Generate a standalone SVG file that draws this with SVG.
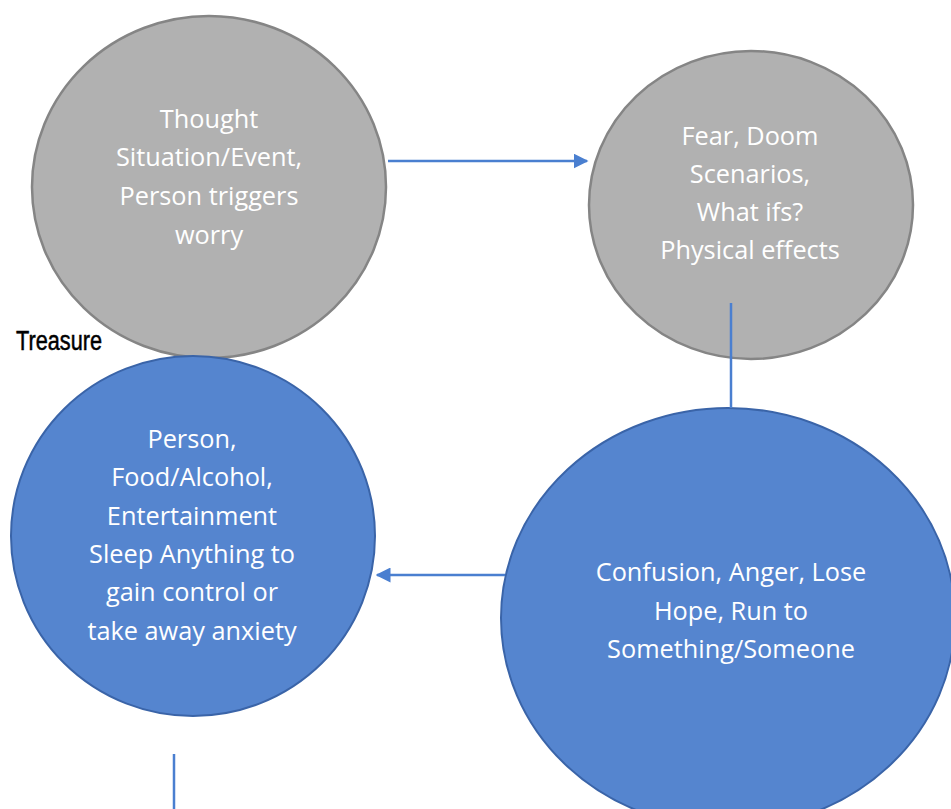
<svg xmlns="http://www.w3.org/2000/svg" width="951" height="809" viewBox="0 0 951 809">
<style>
.gray{fill:#B1B1B1;stroke:#858585;stroke-width:2.5}
.blue{fill:#5585CF;stroke:#3A64A8;stroke-width:2}
.t{font-family:"Open Sans","Liberation Sans",sans-serif;font-size:25.3px;fill:#ffffff;text-anchor:middle}
.c{stroke:#4A7FD0;stroke-width:2.5;fill:none}
</style>
<defs>
<marker id="ah" viewBox="0 0 10 10" refX="9" refY="5" markerWidth="6" markerHeight="6" markerUnits="strokeWidth" orient="auto">
<path d="M0,0 L10,5 L0,10 z" fill="#4A7FD0"/>
</marker>
</defs>
<rect width="951" height="809" fill="#ffffff"/>
<g id="thought">
<ellipse class="gray" cx="209" cy="187" rx="177" ry="171"/>
<text class="t" x="209" y="128">Thought</text>
<text class="t" x="209" y="166">Situation/Event,</text>
<text class="t" x="209" y="205">Person triggers</text>
<text class="t" x="209" y="244">worry</text>
</g>
<g id="fear">
<ellipse class="gray" cx="751" cy="205" rx="162" ry="154"/>
<text class="t" x="750" y="145">Fear, Doom</text>
<text class="t" x="750" y="183">Scenarios,</text>
<text class="t" x="750" y="221">What ifs?</text>
<text class="t" x="750" y="259">Physical effects</text>
</g>
<g id="treasure">
<ellipse class="blue" cx="193" cy="536" rx="182" ry="180"/>
<text class="t" x="192" y="448">Person,</text>
<text class="t" x="192" y="486">Food/Alcohol,</text>
<text class="t" x="192" y="525">Entertainment</text>
<text class="t" x="192" y="563">Sleep Anything to</text>
<text class="t" x="192" y="601">gain control or</text>
<text class="t" x="192" y="640">take away anxiety</text>
</g>
<g id="confusion">
<ellipse class="blue" cx="728" cy="618" rx="227" ry="210"/>
<text class="t" x="731" y="581">Confusion, Anger, Lose</text>
<text class="t" x="731" y="620">Hope, Run to</text>
<text class="t" x="731" y="658">Something/Someone</text>
</g>
<g id="label">
<text x="16" y="350" font-family="'Liberation Sans',sans-serif" font-size="27" fill="#000000" stroke="#000000" stroke-width="0.5" textLength="86" lengthAdjust="spacingAndGlyphs">Treasure</text>
</g>
<g id="connectors">
<line class="c" x1="388" y1="161" x2="587" y2="161" marker-end="url(#ah)"/>
<line class="c" x1="731" y1="303" x2="731" y2="408"/>
<line class="c" x1="505" y1="575" x2="377" y2="575" marker-end="url(#ah)"/>
<line class="c" x1="174" y1="754" x2="174" y2="809"/>
</g>
</svg>
